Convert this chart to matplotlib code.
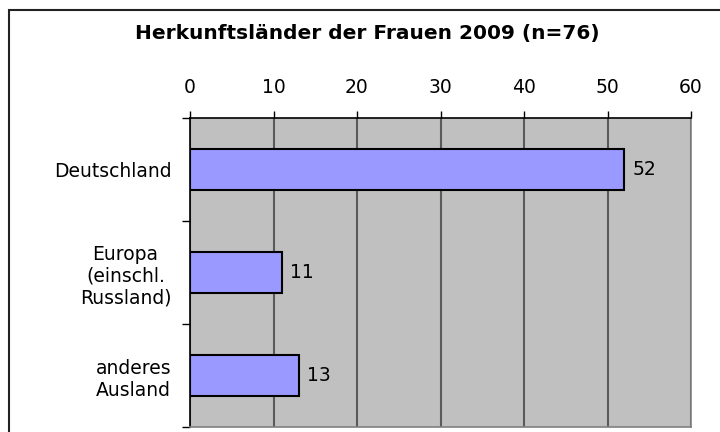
import matplotlib.pyplot as plt
from matplotlib.patches import Rectangle

# Herkunftsländer der Frauen 2009
categories = ['Deutschland', 'Europa\n(einschl.\nRussland)', 'anderes\nAusland']
values = [52, 11, 13]
x_ticks = [0, 10, 20, 30, 40, 50, 60]

plt.rcParams['font.family'] = ['DejaVu Sans']

fig = plt.figure(figsize=(7.2, 4.32), dpi=100)
ax = fig.add_axes([190 / 720, 1 - 427 / 432, 501 / 720, (427 - 118) / 432])

pos = [0, 1, 2]
bars = ax.barh(pos, values, height=0.4, color='#9999FF', edgecolor='black',
               linewidth=1.5, zorder=3)
ax.bar_label(bars, labels=[str(v) for v in values], padding=6, fontsize=13.5)

ax.set_xlim(0, 60)
ax.set_ylim(2.5, -0.5)
ax.set_facecolor('#C0C0C0')
ax.xaxis.tick_top()
ax.set_xticks(x_ticks)
ax.set_xticklabels([str(t) for t in x_ticks], fontsize=13.5)
ax.tick_params(axis='x', direction='out', length=5, width=1, pad=10)
ax.grid(axis='x', color='#5a5a5a', linewidth=1.5, zorder=1)

ax.set_yticks(pos)
ax.set_yticklabels(categories, fontsize=13.5, multialignment='center')
ax.tick_params(axis='y', length=0, pad=13.5)
ax.set_yticks([-0.5, 0.5, 1.5, 2.5], minor=True)
ax.tick_params(axis='y', which='minor', direction='out', length=6, width=1)

ax.spines['top'].set_color('black')
ax.spines['left'].set_color('black')
ax.spines['right'].set_color('#808080')
ax.spines['bottom'].set_color('#808080')
for s in ax.spines.values():
    s.set_linewidth(1.2)

fig.text(367 / 720, 1 - 33 / 432, 'Herkunftsländer der Frauen 2009 (n=76)',
         ha='center', va='center', fontsize=14.5, fontweight='bold')

# outer chart frame
fig.patches.append(Rectangle((9 / 720, -0.1), 1.2, 1.1 - 10.5 / 432,
                             transform=fig.transFigure, fill=False,
                             edgecolor='#222222', linewidth=1.5))

fig.savefig('out.png', dpi=100)
